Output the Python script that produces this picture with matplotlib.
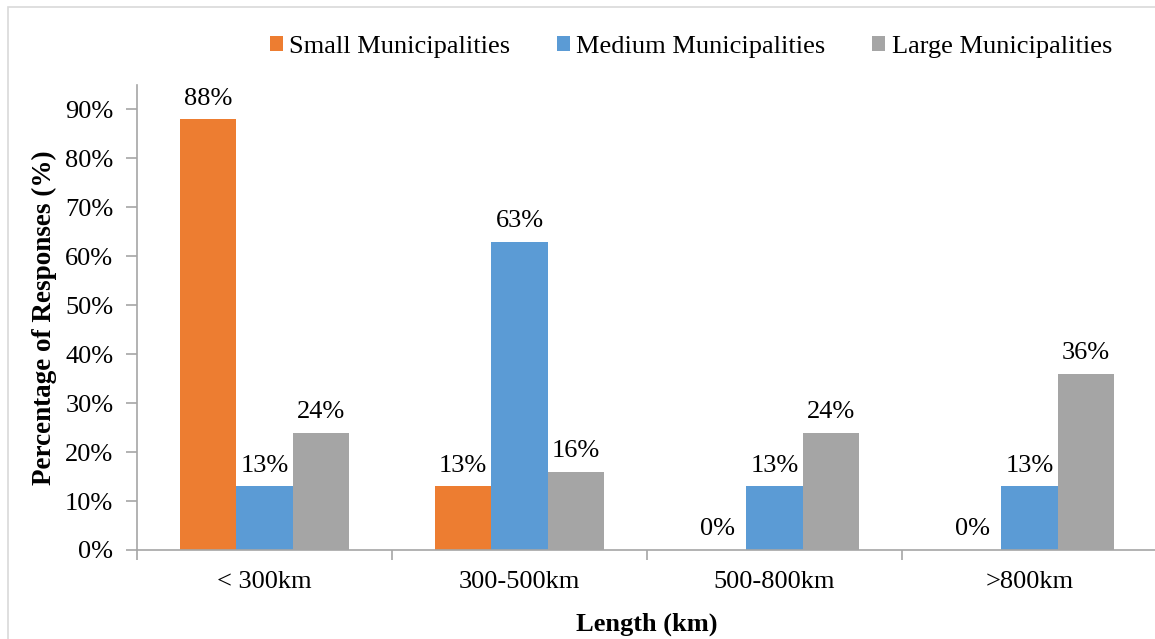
import matplotlib
matplotlib.use("Agg")
import matplotlib.pyplot as plt
import matplotlib.patches as mpatches
import numpy as np

categories = ["< 300km", "300-500km", "500-800km", ">800km"]
series_names = ["Small Municipalities", "Medium Municipalities", "Large Municipalities"]
small = [88, 13, 0, 0]
medium = [13, 63, 13, 13]
large = [24, 16, 24, 36]
colors = ["#ED7D31", "#5B9BD5", "#A5A5A5"]

plt.rcParams["font.family"] = ["Liberation Serif", "DejaVu Serif"]

W, H = 1155, 639
FS = 19
fig = plt.figure(figsize=(W / 100, H / 100), dpi=100)

# light frame around the chart area
frame = mpatches.Rectangle((8 / W, -0.05), 1.2, 1 - 7 / H + 0.05,
                           transform=fig.transFigure, fill=False,
                           edgecolor="#d9d9d9", linewidth=1.2)
fig.patches.append(frame)

ax = fig.add_axes([137 / W, 1 - 550 / H, 1020 / W, 465 / H])

x = np.arange(len(categories))
width = 0.222
for i, (vals, name, c) in enumerate(zip([small, medium, large], series_names, colors)):
    pos = x + (i - 1) * width
    ax.bar(pos, vals, width=width, color=c, label=name)
    for px, v in zip(pos, vals):
        ax.annotate(f"{v}%", (px, v), xytext=(0, 7), textcoords="offset points",
                    ha="center", va="bottom", fontsize=FS)

ax.set_xlim(-0.5, len(categories) - 0.5)
ax.set_ylim(0, 95)
ax.set_yticks(np.arange(0, 91, 10))
ax.set_yticklabels([f"{t}%" for t in range(0, 91, 10)])
ax.set_xticks(x)
ax.set_xticklabels(categories)
ax.set_xticks(np.arange(-0.5, len(categories), 1), minor=True)
ax.tick_params(axis="x", which="major", length=0, pad=15, labelsize=FS)
ax.tick_params(axis="x", which="minor", length=7, color="#a6a6a6", width=1.2)
ax.tick_params(axis="y", length=8, color="#a6a6a6", width=1.2, pad=9, labelsize=FS)

for s in ["top", "right"]:
    ax.spines[s].set_visible(False)
for s in ["left", "bottom"]:
    ax.spines[s].set_color("#a6a6a6")
    ax.spines[s].set_linewidth(1.2)

ax.set_xlabel("Length (km)", fontsize=FS, fontweight="bold", labelpad=14)
ax.set_ylabel("Percentage of Responses (%)", fontsize=FS + 0.5, fontweight="bold", labelpad=6)

ax.legend(loc="upper left", bbox_to_anchor=(259 / W, 1 - 25 / H),
          bbox_transform=fig.transFigure, ncol=3, frameon=False, fontsize=FS,
          handlelength=0.5, handleheight=0.5, handletextpad=0.25, columnspacing=1.75,
          borderaxespad=0)

fig.savefig("out.png", dpi=100)
